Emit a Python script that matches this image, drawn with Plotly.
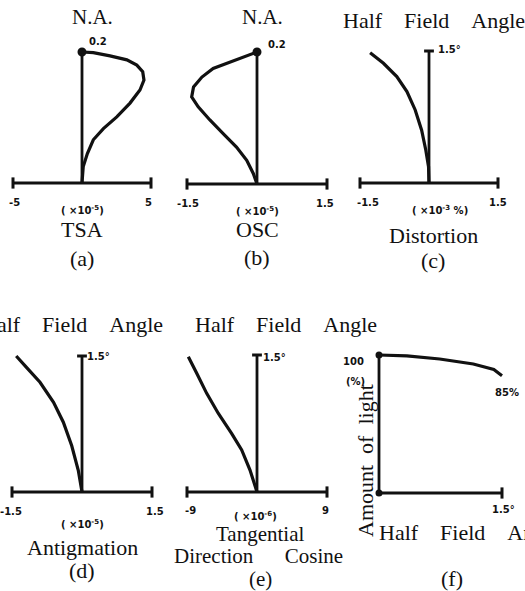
import plotly.graph_objects as go

W, H = 525, 591

# ---- data -------------------------------------------------------------
# (a) transverse spherical aberration vs N.A.
tsa_x = [0, 0.09, 0.39, 0.82, 1.55, 2.52, 3.48, 4.20, 4.49, 4.40, 3.97, 3.25, 2.03, 0.82, 0]
tsa_na = [0, 0.025, 0.045, 0.066, 0.083, 0.101, 0.122, 0.142, 0.157, 0.170, 0.180, 0.188, 0.194, 0.199, 0.2]

# (b) offense against sine condition vs N.A.
osc_x = [0, -0.08, -0.22, -0.44, -0.72, -1.01, -1.26, -1.40, -1.36, -1.18, -0.94, -0.58, -0.22, 0]
osc_na = [0, 0.016, 0.036, 0.056, 0.076, 0.097, 0.117, 0.132, 0.147, 0.162, 0.175, 0.185, 0.195, 0.2]

# (c) distortion vs half field angle
dist_x = [0, -0.01, -0.07, -0.16, -0.30, -0.48, -0.70, -0.99, -1.28]
dist_ang = [0, 0.185, 0.375, 0.60, 0.83, 1.04, 1.21, 1.36, 1.48]

# (d) astigmatism vs half field angle
ast_x = [0, -0.08, -0.22, -0.40, -0.61, -0.90, -1.19, -1.41]
ast_ang = [0, 0.24, 0.51, 0.77, 0.99, 1.21, 1.375, 1.5]

# (e) tangential direction cosine vs half field angle
tdc_x = [0, -0.90, -1.97, -3.25, -4.97, -6.47, -7.75, -8.83]
tdc_ang = [0, 0.24, 0.46, 0.64, 0.86, 1.08, 1.30, 1.48]

# (f) relative amount of light vs half field angle
light_ang = [0, 0.34, 0.74, 1.15, 1.40, 1.5]
light_pct = [100, 99.3, 97.1, 93.5, 89.5, 85]

# axis extents per panel
tsa_lim, osc_lim, dist_lim, ast_lim, tdc_lim = 5, 1.5, 1.5, 1.5, 9
na_max, ang_max, pct_max = 0.2, 1.5, 100

fig = go.Figure()
BLACK = "#111111"
SERIF = "Liberation Serif"
SANS = "DejaVu Sans"
PAD = 9


def axes_pair(i, xp, xv, yp, yv):
    """Place subplot i so that data values xv/yv land on pixels xp/yp."""
    sx = (xv[1] - xv[0]) / (xp[1] - xp[0])
    sy = (yv[1] - yv[0]) / (yp[0] - yp[1])
    sfx = "" if i == 1 else str(i)
    fig.layout["xaxis" + sfx] = dict(
        domain=[(xp[0] - PAD) / W, (xp[1] + PAD) / W],
        range=[xv[0] - PAD * sx, xv[1] + PAD * sx],
        visible=False, anchor="y" + sfx, fixedrange=True)
    fig.layout["yaxis" + sfx] = dict(
        domain=[(H - yp[0] - PAD) / H, (H - yp[1] + PAD) / H],
        range=[yv[0] - PAD * sy, yv[1] + PAD * sy],
        visible=False, anchor="x" + sfx, fixedrange=True)
    return "x" + sfx, "y" + sfx


def line(xa, ya, xs, ys, width=2.8):
    fig.add_trace(go.Scatter(x=xs, y=ys, xaxis=xa, yaxis=ya, mode="lines",
                             line=dict(color=BLACK, width=width),
                             hoverinfo="skip", showlegend=False))


def caps(xa, ya, xs, ys, symbol, size=8):
    fig.add_trace(go.Scatter(x=xs, y=ys, xaxis=xa, yaxis=ya, mode="markers",
                             marker=dict(symbol=symbol, size=size, color=BLACK,
                                         line=dict(color=BLACK, width=3)),
                             cliponaxis=False, hoverinfo="skip", showlegend=False))


def cross_axes(xa, ya, lim, top, top_symbol):
    line(xa, ya, [-lim, lim], [0, 0])
    line(xa, ya, [0, 0], [0, top])
    caps(xa, ya, [-lim, lim], [0, 0], "line-ns", 8)
    if top_symbol == "circle":
        caps(xa, ya, [0], [top], "circle", 6)
    else:
        caps(xa, ya, [0], [top], "line-ew", 7)


def text(s, x, y, size=22, family=SERIF, bold=False, anchor="center", angle=0):
    fig.add_annotation(text=f"<b>{s}</b>" if bold else s, x=x / W, y=1 - y / H,
                       xref="paper", yref="paper", xanchor=anchor, yanchor="middle",
                       showarrow=False, textangle=angle,
                       font=dict(family=family, size=size, color=BLACK))


def tick(s, x, y, size=10):
    text(s, x, y, size=size, family=SANS, bold=True)


def spaced(*words, n=4):
    return ("\u00a0" * n).join(words)


HFA = spaced("Half", "Field", "Angle")

# (a) TSA
xa, ya = axes_pair(1, (13, 151), (-tsa_lim, tsa_lim), (183, 52), (0, na_max))
cross_axes(xa, ya, tsa_lim, na_max, "circle")
line(xa, ya, tsa_x, tsa_na, 3.2)
text("N.A.", 92, 17, size=21)
tick("0.2", 98, 41)
tick("-5", 14, 202)
tick("5", 148, 202)
tick("( ×10<sup>-5</sup>)", 82, 210)
text("TSA", 82, 229)
text("(a)", 82, 258)

# (b) OSC
xa, ya = axes_pair(2, (187, 327), (-osc_lim, osc_lim), (184, 52), (0, na_max))
cross_axes(xa, ya, osc_lim, na_max, "circle")
line(xa, ya, osc_x, osc_na, 3.2)
text("N.A.", 262, 17, size=21)
tick("0.2", 277, 44)
tick("-1.5", 188, 204)
tick("1.5", 325, 204)
tick("( ×10<sup>-5</sup>)", 257, 211)
text("OSC", 257, 229)
text("(b)", 257, 257)

# (c) Distortion
xa, ya = axes_pair(3, (360, 498), (-dist_lim, dist_lim), (183, 51), (0, ang_max))
cross_axes(xa, ya, dist_lim, ang_max, "line-ew")
line(xa, ya, dist_x, dist_ang, 3.2)
text(HFA, 341, 20, anchor="left")
tick("1.5°", 449, 50)
tick("-1.5", 368, 203)
tick("1.5", 498, 203)
tick("( ×10<sup>-3</sup> %)", 440, 210)
text("Distortion", 433, 235)
text("(c)", 433, 260)

# (d) Astigmatism
xa, ya = axes_pair(4, (12, 152), (-ast_lim, ast_lim), (492, 356), (0, ang_max))
cross_axes(xa, ya, ast_lim, ang_max, "line-ew")
line(xa, ya, ast_x, ast_ang, 3.2)
text(HFA, 165, 324, anchor="right")
tick("1.5°", 98, 356)
tick("-1.5", 11, 511)
tick("1.5", 155, 511)
tick("( ×10<sup>-5</sup>)", 82, 524)
text("Antigmation", 82, 547)
text("(d)", 82, 570)

# (e) Tangential direction cosine
xa, ya = axes_pair(5, (187, 327), (-tdc_lim, tdc_lim), (492, 355), (0, ang_max))
cross_axes(xa, ya, tdc_lim, ang_max, "line-ew")
line(xa, ya, tdc_x, tdc_ang, 3.2)
text(HFA, 193, 324, anchor="left")
tick("1.5°", 274, 357)
tick("-9", 190, 510)
tick("9", 325, 510)
tick("( ×10<sup>-6</sup>)", 255, 516)
text("Tangential", 260, 534, size=21)
text(spaced("Direction", "Cosine", n=6), 258, 556, size=21)
text("(e)", 260, 579, size=21)

# (f) Amount of light
xa, ya = axes_pair(6, (379, 502), (0, ang_max), (493, 355), (0, pct_max))
line(xa, ya, [0, ang_max], [0, 0])
line(xa, ya, [0, 0], [0, pct_max])
caps(xa, ya, [ang_max], [0], "line-ns", 8)
caps(xa, ya, [0], [0], "circle", 4)
caps(xa, ya, [0], [pct_max], "circle", 4)
line(xa, ya, light_ang, light_pct, 3.2)
tick("100", 353, 361)
tick("(%)", 355, 381)
tick(f"{light_pct[-1]}%", 507, 392)
tick("1.5°", 503, 509)
text(spaced("Amount", "of", "light", n=2), 365, 461, angle=-90)
text(HFA, 377, 532, anchor="left")
text("(f)", 452, 578)

fig.update_layout(width=W, height=H, margin=dict(l=0, r=0, t=0, b=0),
                  paper_bgcolor="white", plot_bgcolor="rgba(0,0,0,0)",
                  showlegend=False)
fig.write_html("out.html", config={"displayModeBar": False})
